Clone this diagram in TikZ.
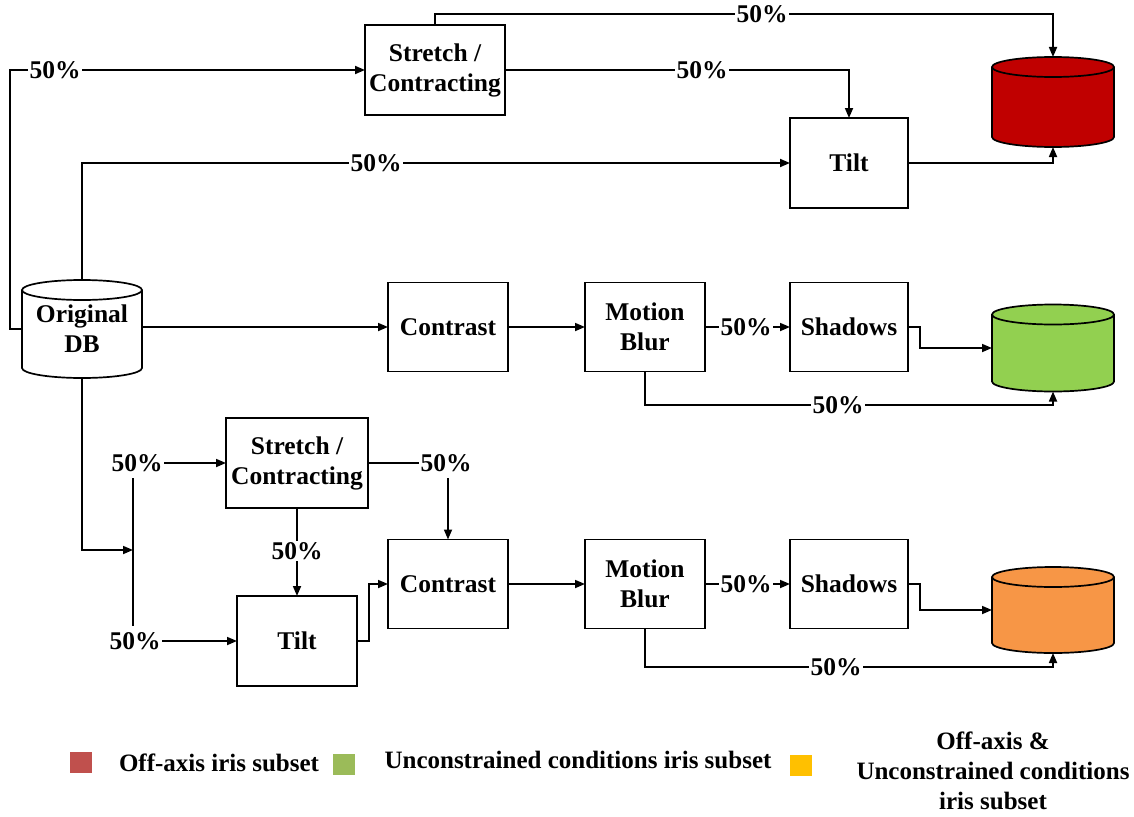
\documentclass[tikz,border=0pt]{standalone}
\usepackage{fontspec}
\setmainfont{Liberation Serif}
\usetikzlibrary{arrows.meta,backgrounds}
\newcommand\diagfont{\fontsize{25.5}{30}\selectfont\bfseries}
\newcommand\legfont{\fontsize{25}{30}\selectfont\bfseries}
% cylinder drawn around an invisible node: #1 name, #2 x radius, #3 fill
\newcommand\drawcyl[3]{%
  \draw[line width=1.7pt,fill=#3] ([yshift=-10pt]#1.north west) -- ([yshift=10pt]#1.south west)
    arc[start angle=180,end angle=360,x radius=#2,y radius=10pt]
    -- ([yshift=-10pt]#1.north east)
    arc[start angle=0,end angle=180,x radius=#2,y radius=10pt] -- cycle;
  \draw[line width=1.7pt] ([yshift=-10pt]#1.north east)
    arc[start angle=0,end angle=-180,x radius=#2,y radius=10pt];}
\begin{document}
\begin{tikzpicture}[x=1pt,y=1pt,
  box/.style={draw,line width=1.7pt,align=center,font=\diagfont,inner sep=0pt,outer sep=0pt},
  cylbox/.style={align=center,font=\diagfont,inner sep=0pt,outer sep=0pt},
  lbl/.style={font=\diagfont,inner sep=1.5pt},
  con/.style={line width=1.7pt},
  arr/.style={con,-{Triangle[length=10pt,width=8pt]}},
  legtext/.style={font=\legfont,align=center},
  legsq/.style={minimum width=22pt,minimum height=21pt,inner sep=0pt}]
\useasboundingbox (0,0) rectangle (1134,-816);
\definecolor{cred}{HTML}{C00000}
\definecolor{cgreen}{HTML}{92D050}
\definecolor{corange}{HTML}{F79646}
\definecolor{lred}{HTML}{C0504D}
\definecolor{lgreen}{HTML}{9BBB59}
\definecolor{lyellow}{HTML}{FFC000}

% ---------- nodes ----------
\node[box,minimum width=140pt,minimum height=90pt] (st1) at (435,-70) {Stretch /\\Contracting};
\node[box,minimum width=118pt,minimum height=90pt] (tilt1) at (849,-163) {Tilt};
\node[cylbox,minimum width=122pt,minimum height=90pt] (red) at (1053,-102) {};
\node[cylbox,minimum width=120pt,minimum height=98pt] (db) at (82,-329) {Original\\DB};
\node[box,minimum width=120pt,minimum height=89pt] (c1) at (448,-327) {Contrast};
\node[box,minimum width=120pt,minimum height=89pt] (mb1) at (645,-327) {Motion\\Blur};
\node[box,minimum width=118pt,minimum height=89pt] (sh1) at (849,-327) {Shadows};
\node[cylbox,minimum width=122pt,minimum height=87pt] (green) at (1053,-348) {};
\node[box,minimum width=142pt,minimum height=90pt] (st2) at (297,-463) {Stretch /\\Contracting};
\node[box,minimum width=120pt,minimum height=90pt] (tilt2) at (297,-641) {Tilt};
\node[box,minimum width=120pt,minimum height=89pt] (c2) at (448,-584) {Contrast};
\node[box,minimum width=120pt,minimum height=89pt] (mb2) at (645,-584) {Motion\\Blur};
\node[box,minimum width=118pt,minimum height=89pt] (sh2) at (849,-584) {Shadows};
\node[cylbox,minimum width=122pt,minimum height=86pt] (orange) at (1053,-610) {};

\begin{pgfonlayer}{background}
  \drawcyl{red}{61pt}{cred}
  \drawcyl{db}{60pt}{white}
  \drawcyl{green}{61pt}{cgreen}
  \drawcyl{orange}{61pt}{corange}
\end{pgfonlayer}

% ---------- 50% labels ----------
\node[lbl] (lA) at (762,-14) {50\%};
\node[lbl] (lB) at (55,-70) {50\%};
\node[lbl] (lC) at (702,-70) {50\%};
\node[lbl] (lD) at (376,-163) {50\%};
\node[lbl] (lE) at (746,-327) {50\%};
\node[lbl] (lF) at (838,-405) {50\%};
\node[lbl] (lG) at (137,-463) {50\%};
\node[lbl] (lH) at (135,-641) {50\%};
\node[lbl] (lI) at (297,-551) {50\%};
\node[lbl] (lJ) at (446,-463) {50\%};
\node[lbl] (lK) at (746,-584) {50\%};
\node[lbl] (lL) at (836,-667) {50\%};
\coordinate (split) at (133,-550);

% ---------- connectors: top ----------
\draw[con] (db.west) -- ++(-12,0) |- (lB);
\draw[arr] (lB) -- (st1.west);
\draw[con] (st1.north) |- (lA);
\draw[arr] (lA) -| (red.north);
\draw[con] (st1.east) -- (lC);
\draw[arr] (lC) -| (tilt1.north);
\draw[con] (db.north) |- (lD);
\draw[arr] (lD) -- (tilt1.west);
\draw[arr] (tilt1.east) -| (red.south);

% ---------- connectors: middle ----------
\draw[arr] (db.east |- c1.west) -- (c1.west);
\draw[arr] (c1) -- (mb1);
\draw[con] (mb1) -- (lE);
\draw[arr] (lE) -- (sh1);
\draw[arr] (sh1.east) -- ++(12,0) |- (green.west);
\draw[con] (mb1.south) |- (lF);
\draw[arr] (lF) -| (green.south);

% ---------- connectors: bottom ----------
\draw[arr] (db.south) |- (split);
\draw[con] (split |- lG.south) ++(0,-5) -- ([yshift=5pt]split |- lH.north);
\draw[arr] (lG) -- (st2.west);
\draw[arr] (lH) -- (tilt2.west);
\draw[con] (st2.south) -- (lI);
\draw[arr] (lI) -- (tilt2.north);
\draw[con] (st2.east) -- (lJ);
\draw[arr] (lJ.south -| c2.north) ++(0,-5) -- (c2.north);
\draw[arr] (tilt2.east) -- ++(12,0) |- (c2.west);
\draw[arr] (c2) -- (mb2);
\draw[con] (mb2) -- (lK);
\draw[arr] (lK) -- (sh2);
\draw[arr] (sh2.east) -- ++(12,0) |- (orange.west);
\draw[con] (mb2.south) |- (lL);
\draw[arr] (lL) -| (orange.south);

% ---------- legend ----------
\node[legsq,fill=lred] (sqr) at (81,-762) {};
\node[legtext] (txr) at (219,-763) {Off-axis iris subset};
\node[legsq,fill=lgreen] (sqg) at (344,-764) {};
\node[legtext] (txg) at (578,-760) {Unconstrained conditions iris subset};
\node[legsq,fill=lyellow] (sqy) at (801,-765) {};
\node[legtext] (txy) at (993,-771) {Off-axis \&\\Unconstrained conditions\\iris subset};
\end{tikzpicture}
\end{document}
